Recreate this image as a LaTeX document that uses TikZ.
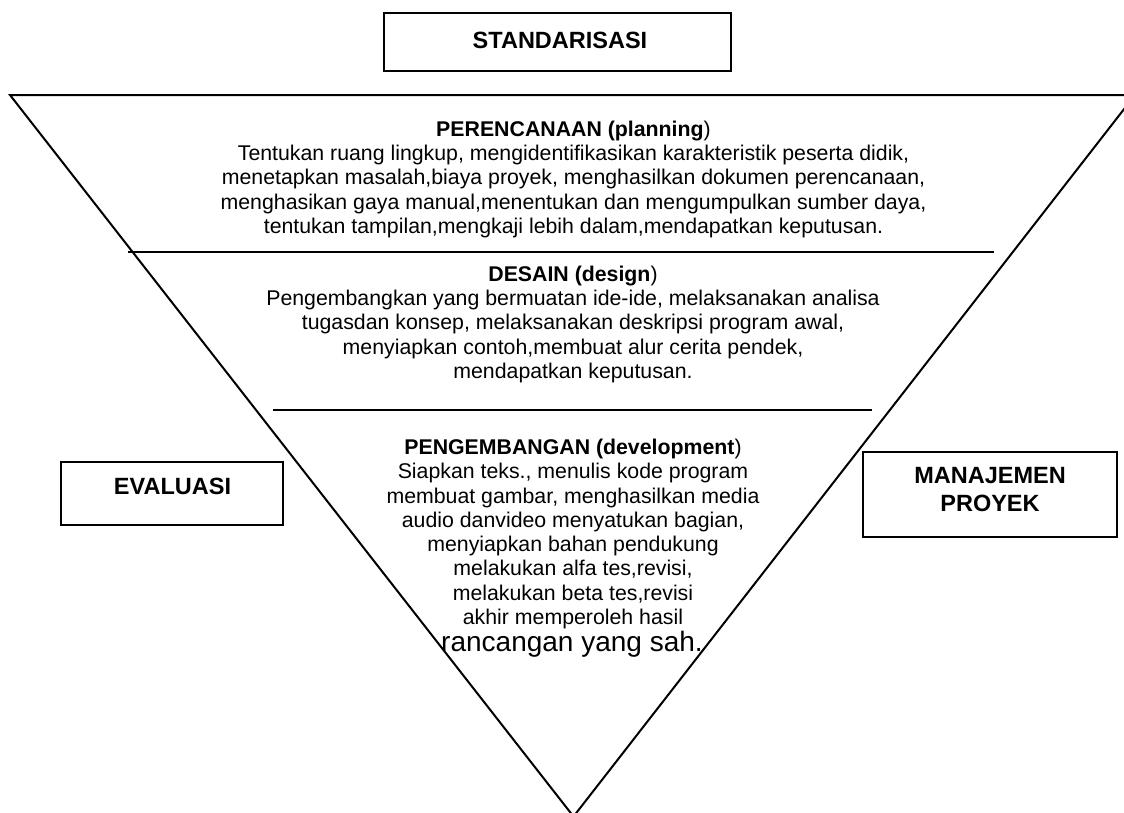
\documentclass[tikz,border=0pt]{standalone}
\usepackage{fontspec}
\setmainfont{Liberation Sans}
\begin{document}
\lineskiplimit=-100pt\relax
\lineskip=0pt\relax
\begin{tikzpicture}[x=1pt,y=-1pt,
  edge/.style={line width=2pt, line join=miter},
  divider/.style={line width=1.8pt},
  labelbox/.style={draw, line width=1.8pt, inner sep=0pt},
  boxtext/.style={font=\fontsize{23.5}{27.5}\selectfont\bfseries, align=center, inner sep=0pt},
  sectiontext/.style={font=\fontsize{21.3}{24.3}\selectfont, align=center, inner sep=0pt},
  bigtext/.style={font=\fontsize{28}{30}\selectfont, inner sep=0pt}
]
\useasboundingbox (0,0) rectangle (1124,812);
\clip (0,0) rectangle (1124,812);
% inverted triangle
\coordinate (tl) at (10,95);
\coordinate (tr) at (1135,95);
\coordinate (apex) at (573.5,816.5);
\draw[edge] (tl) -- (tr) -- (apex) -- cycle;
% dividers
\coordinate (d1l) at (128,252);
\coordinate (d1r) at (994,252);
\coordinate (d2l) at (273,410);
\coordinate (d2r) at (872,410);
\draw[divider] (d1l) -- (d1r);
\draw[divider] (d2l) -- (d2r);
% side boxes
\node[labelbox, minimum width=347pt, minimum height=58pt] (std) at (557.5,42) {};
\node[boxtext] (stdtext) at (560,40) {STANDARISASI};
\node[labelbox, minimum width=222pt, minimum height=63pt] (eval) at (172,493.5) {};
\node[boxtext] (evaltext) at (172.5,486.5) {EVALUASI};
\node[labelbox, minimum width=254pt, minimum height=85pt] (mp) at (990,494.5) {};
\node[boxtext] (mptext) at (990,489.5) {MANAJEMEN\\PROYEK};
% sections
\node[sectiontext] (plan) at (573.5,179.3) {{\bfseries PERENCANAAN (planning})\\
Tentukan ruang lingkup, mengidentifikasikan karakteristik peserta didik,\\
menetapkan masalah,biaya proyek, menghasilkan dokumen perencanaan,\\
menghasikan gaya manual,menentukan dan mengumpulkan sumber daya,\\
tentukan tampilan,mengkaji lebih dalam,mendapatkan keputusan.};
\node[sectiontext] (design) at (573,324.3) {{\bfseries DESAIN (design})\\
Pengembangkan yang bermuatan ide-ide, melaksanakan analisa\\
tugasdan konsep, melaksanakan deskripsi program awal,\\
menyiapkan contoh,membuat alur cerita pendek,\\
mendapatkan keputusan.};
\node[sectiontext] (dev) at (573,534) {{\bfseries PENGEMBANGAN (development})\\
Siapkan teks., menulis kode program\\
membuat gambar, menghasilkan media\\
audio danvideo menyatukan bagian,\\
menyiapkan bahan pendukung\\
melakukan alfa tes,revisi,\\
melakukan beta tes,revisi\\
akhir memperoleh hasil};
\node[bigtext, anchor=base] (devlast) at (572,651) {rancangan yang sah.};
\end{tikzpicture}
\end{document}
